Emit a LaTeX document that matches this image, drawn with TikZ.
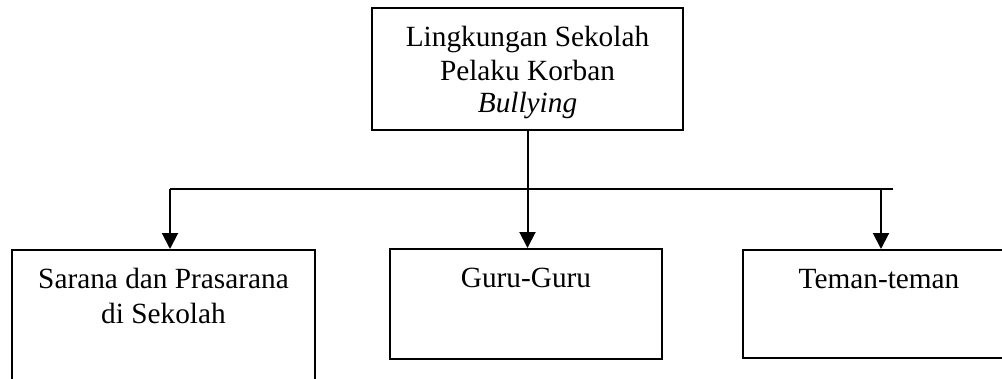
\documentclass[tikz,border=0pt]{standalone}
\usepackage{fontspec}
\setmainfont{Liberation Serif}
\usetikzlibrary{arrows.meta}
\begin{document}
\begin{tikzpicture}[x=1pt,y=-1pt,
  box/.style={draw, line width=2pt, rectangle, inner sep=0pt},
  lbl/.style={anchor=base, inner sep=0pt, font=\fontsize{29.3}{33}\selectfont},
  link/.style={line width=2pt},
  arrowlink/.style={line width=2pt, -{Triangle[width=16pt,length=16pt]}}]
\path[use as bounding box, clip] (0,0) rectangle (1002,378);

% boxes
\node[box, minimum width=311pt, minimum height=122pt] (top) at (527.5,69) {};
\node[box, minimum width=303pt, minimum height=180pt] (left) at (163.5,340) {};
\node[box, minimum width=272pt, minimum height=110pt] (mid) at (526,304) {};
\node[box, minimum width=272pt, minimum height=108pt] (right) at (879,304) {};

% texts
\node[lbl] (t1) at (527.5,46.7) {Lingkungan Sekolah};
\node[lbl] (t2) at (527.5,80) {Pelaku Korban};
\node[lbl] (t3) at (527.5,112) {\itshape Bullying};
\node[lbl] (s1) at (163.5,288) {Sarana dan Prasarana};
\node[lbl] (s2) at (163.5,323) {di Sekolah};
\node[lbl] (g1) at (526,287) {Guru-Guru};
\node[lbl] (m1) at (879,288) {Teman-teman};

% connectors
\coordinate (hl) at (170,189);
\coordinate (hr) at (893,189);
\coordinate (ra) at (881,189);
\draw[link] (hl) -- (hr);
\draw[arrowlink] (top.south) -- (top.south |- mid.north);
\draw[arrowlink] (hl) -- (hl |- left.north);
\draw[arrowlink] (ra) -- (ra |- right.north);
\end{tikzpicture}
\end{document}
